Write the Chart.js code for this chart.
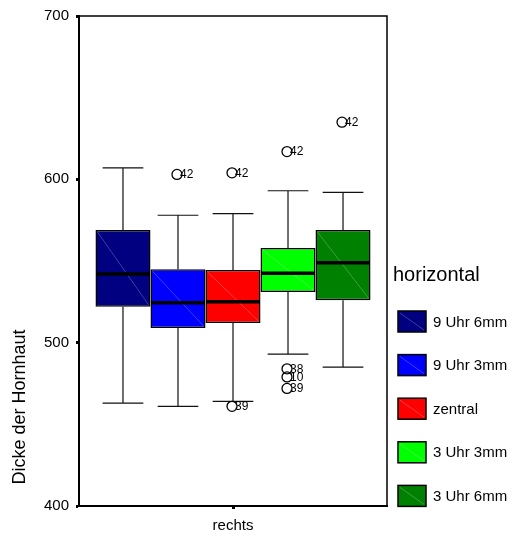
<!DOCTYPE html>
<html>
<head>
<meta charset="utf-8">
<script src="https://cdn.jsdelivr.net/npm/chart.js@4"></script>
<style>
  html, body { margin: 0; padding: 0; background: #fff; }
  #wrap { width: 516px; height: 537px; }
</style>
</head>
<body>
<div id="wrap"><canvas id="c" width="516" height="537"></canvas></div>
<script>
// Corneal thickness by measuring position (right eye)
const categories = ['rechts'];
const seriesNames = ['9 Uhr 6mm', '9 Uhr 3mm', 'zentral', '3 Uhr 3mm', '3 Uhr 6mm'];
const seriesColors = ['#000080', '#0000ff', '#ff0000', '#00ff00', '#008000'];

const whiskerLow  = [463, 461, 464, 493, 485];
const quartile1   = [522, 509, 512, 531, 526];
const medianVals  = [542, 524.5, 525, 542.5, 549];
const quartile3   = [569, 545, 544.5, 558, 569];
const whiskerHigh = [607, 578, 579, 593, 592];

const outlierValues = [[], [603], [604, 461], [617, 484, 479, 472], [635]];
const outlierIds    = [[], ['42'], ['42', '39'], ['42', '38', '10', '39'], ['42']];

const yTicks = [400, 500, 600, 700];
const yTitle = 'Dicke der Hornhaut';
const legendTitle = 'horizontal';

const FONT = '"Liberation Sans", Arial, Helvetica, sans-serif';

const datasets = seriesNames.map((name, i) => ({
  label: name,
  data: [[quartile1[i], quartile3[i]]],
  backgroundColor: seriesColors[i],
  borderColor: '#000',
  borderWidth: 1.5,
  borderSkipped: false
}));

// Whiskers, medians, outliers, frame and legend for the box plot
const boxPlot = {
  id: 'boxPlot',
  beforeDatasetsDraw(chart) {
    const ctx = chart.ctx;
    const y = chart.scales.y;
    ctx.save();
    ctx.strokeStyle = '#111';
    ctx.lineWidth = 1.2;
    chart.data.datasets.forEach((ds, i) => {
      const bar = chart.getDatasetMeta(i).data[0];
      const cx = bar.x;
      const capHalf = bar.width * 0.37;
      const yLo = y.getPixelForValue(whiskerLow[i]);
      const yHi = y.getPixelForValue(whiskerHigh[i]);
      const yQ1 = y.getPixelForValue(quartile1[i]);
      const yQ3 = y.getPixelForValue(quartile3[i]);
      ctx.beginPath();
      ctx.moveTo(cx, yHi); ctx.lineTo(cx, yQ3);
      ctx.moveTo(cx, yQ1); ctx.lineTo(cx, yLo);
      ctx.moveTo(cx - capHalf, yHi); ctx.lineTo(cx + capHalf, yHi);
      ctx.moveTo(cx - capHalf, yLo); ctx.lineTo(cx + capHalf, yLo);
      ctx.stroke();
    });
    ctx.restore();
  },
  afterDatasetsDraw(chart) {
    const ctx = chart.ctx;
    const y = chart.scales.y;
    ctx.save();
    chart.data.datasets.forEach((ds, i) => {
      const bar = chart.getDatasetMeta(i).data[0];
      const left = bar.x - bar.width / 2;
      const right = bar.x + bar.width / 2;
      const yQ1 = y.getPixelForValue(quartile1[i]);
      const yQ3 = y.getPixelForValue(quartile3[i]);
      // faint diagonal hatch
      ctx.strokeStyle = 'rgba(255,255,255,0.3)';
      ctx.lineWidth = 0.8;
      ctx.beginPath();
      ctx.moveTo(left + 2, yQ3 + 2);
      ctx.lineTo(right - 2, yQ1 - 2);
      ctx.stroke();
      // median
      const yMed = y.getPixelForValue(medianVals[i]);
      ctx.strokeStyle = '#000';
      ctx.lineWidth = 3.5;
      ctx.beginPath();
      ctx.moveTo(left + 1, yMed);
      ctx.lineTo(right - 1, yMed);
      ctx.stroke();
      // outliers
      ctx.lineWidth = 1.3;
      ctx.font = '12px ' + FONT;
      ctx.fillStyle = '#000';
      ctx.textAlign = 'left';
      ctx.textBaseline = 'middle';
      outlierValues[i].forEach((v, k) => {
        const py = y.getPixelForValue(v);
        ctx.beginPath();
        ctx.arc(bar.x - 1, py, 5, 0, Math.PI * 2);
        ctx.stroke();
        ctx.fillText(outlierIds[i][k], bar.x + 2, py + 0.5);
      });
    });
    ctx.restore();
  },
  afterDraw(chart) {
    const ctx = chart.ctx;
    const a = chart.chartArea;
    ctx.save();
    // top and right frame
    ctx.strokeStyle = '#000';
    ctx.lineWidth = 1.5;
    ctx.beginPath();
    ctx.moveTo(a.left, a.top);
    ctx.lineTo(a.right, a.top);
    ctx.lineTo(a.right, a.bottom);
    ctx.stroke();

    // y axis title
    ctx.fillStyle = '#000';
    ctx.font = '18px ' + FONT;
    ctx.textAlign = 'center';
    ctx.textBaseline = 'alphabetic';
    ctx.save();
    ctx.translate(25, 407);
    ctx.rotate(-Math.PI / 2);
    ctx.fillText(yTitle, 0, 0);
    ctx.restore();

    // legend
    ctx.font = '20px ' + FONT;
    ctx.textAlign = 'left';
    ctx.fillText(legendTitle, 393, 281);
    ctx.font = '15px ' + FONT;
    ctx.textBaseline = 'middle';
    chart.data.datasets.forEach((ds, i) => {
      const top = 311 + i * 43.6;
      const x0 = 398, w = 28, h = 21;
      ctx.fillStyle = ds.backgroundColor;
      ctx.fillRect(x0, top, w, h);
      ctx.strokeStyle = 'rgba(255,255,255,0.3)';
      ctx.lineWidth = 0.8;
      ctx.beginPath();
      ctx.moveTo(x0 + 2, top + 2);
      ctx.lineTo(x0 + w - 2, top + h - 2);
      ctx.stroke();
      ctx.strokeStyle = '#000';
      ctx.lineWidth = 1.5;
      ctx.strokeRect(x0, top, w, h);
      ctx.fillStyle = '#000';
      ctx.fillText(ds.label, 433, top + h / 2 + 1);
    });
    ctx.restore();
  }
};

new Chart(document.getElementById('c'), {
  type: 'bar',
  data: { labels: categories, datasets },
  options: {
    responsive: false,
    animation: false,
    layout: { padding: { top: 15, right: 129, left: 0, bottom: 0 } },
    plugins: { legend: { display: false }, tooltip: { enabled: false } },
    datasets: { bar: { categoryPercentage: 0.893, barPercentage: 1.0 } },
    scales: {
      x: {
        offset: true,
        afterFit(s) { s.height = 31; },
        border: { display: true, color: '#000', width: 2 },
        grid: { drawOnChartArea: false, offset: false, drawTicks: true, tickLength: 3, tickWidth: 3, color: '#000' },
        ticks: { color: '#000', font: { family: FONT, size: 15 }, padding: 8 }
      },
      y: {
        min: 400,
        max: 700,
        afterFit(s) { s.width = 79; },
        afterBuildTicks(s) { s.ticks = yTicks.map(v => ({ value: v })); },
        border: { display: true, color: '#000', width: 2 },
        grid: { drawOnChartArea: false, drawTicks: true, tickLength: 3, tickWidth: 3, color: '#000' },
        ticks: { color: '#000', font: { family: FONT, size: 15 }, padding: 7 }
      }
    }
  },
  plugins: [boxPlot]
});
</script>
</body>
</html>
